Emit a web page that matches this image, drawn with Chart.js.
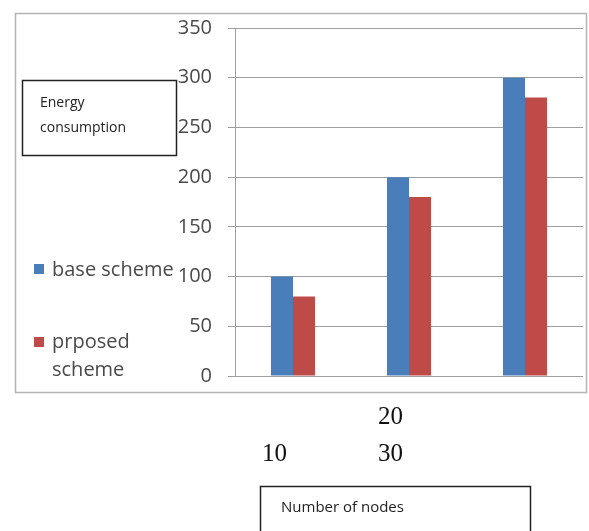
<!DOCTYPE html>
<html>
<head>
<meta charset="utf-8">
<script src="https://cdn.jsdelivr.net/npm/chart.js@4.4.1/dist/chart.umd.min.js"></script>
<style>
  html, body { margin: 0; padding: 0; background: #fff; }
  #wrap { width: 589px; height: 531px; position: relative; }
</style>
</head>
<body>
<div id="wrap"><canvas id="c" width="589" height="531"></canvas></div>
<script>
// chart data
const nodeLabels = ['10', '20', '30'];
const baseScheme = [100, 200, 300];
const proposedScheme = [80, 180, 280];
const yTicks = [0, 50, 100, 150, 200, 250, 300, 350];
const yTitle = ['Energy', 'consumption'];
const xTitle = 'Number of nodes';

const BLUE = '#4a7ebb';
const RED = '#be4b48';
const GRID = '#a0a0a0';
const TEXT = '#4a4a4a';

// frame, text boxes, legend and the odd x labels of the original sheet
const decor = {
  id: 'decor',
  beforeDraw(chart) {
    const ctx = chart.ctx;
    ctx.save();
    ctx.fillStyle = '#fff';
    ctx.fillRect(0, 0, chart.width, chart.height);
    ctx.strokeStyle = '#b4b4b4';
    ctx.lineWidth = 1.5;
    ctx.strokeRect(15.5, 13.5, 571, 379);
    ctx.restore();
  },
  afterDraw(chart) {
    const ctx = chart.ctx;
    ctx.save();
    // y title box
    ctx.strokeStyle = '#222';
    ctx.lineWidth = 1.5;
    ctx.strokeRect(22.5, 80.5, 154, 75);
    ctx.fillStyle = '#222';
    ctx.font = '14px "Open Sans"';
    ctx.textBaseline = 'alphabetic';
    ctx.fillText(yTitle[0], 40, 107);
    ctx.fillText(yTitle[1], 40, 132);
    // x title box
    ctx.strokeRect(260.5, 486.5, 270, 60);
    ctx.font = '15px "Open Sans"';
    ctx.fillText(xTitle, 281, 512);

    // legend
    const ds = chart.data.datasets;
    ctx.font = '20px "Open Sans"';
    ctx.fillStyle = ds[0].backgroundColor;
    ctx.fillRect(34, 264, 10, 10);
    ctx.fillStyle = TEXT;
    ctx.fillText(ds[0].label, 52, 276);
    ctx.fillStyle = ds[1].backgroundColor;
    ctx.fillRect(34, 337, 10, 10);
    ctx.fillStyle = TEXT;
    const parts = ds[1].label.split(' ');
    ctx.fillText(parts[0], 52, 348);
    ctx.fillText(parts[1], 52, 376);

    // category labels
    ctx.fillStyle = '#111';
    ctx.font = '25px "Liberation Serif"';
    ctx.fillText(chart.data.labels[1], 378, 424);
    ctx.fillText(chart.data.labels[0], 262, 461);
    ctx.fillText(chart.data.labels[2], 378, 461);
    ctx.restore();
  }
};

new Chart(document.getElementById('c'), {
  type: 'bar',
  data: {
    labels: nodeLabels,
    datasets: [
      { label: 'base scheme', data: baseScheme, backgroundColor: BLUE },
      { label: 'prposed scheme', data: proposedScheme, backgroundColor: RED }
    ]
  },
  options: {
    responsive: false,
    animation: false,
    events: [],
    layout: { padding: { left: 0, top: 28, right: 6, bottom: 155 } },
    datasets: { bar: { categoryPercentage: 0.38, barPercentage: 1.0 } },
    plugins: { legend: { display: false }, tooltip: { enabled: false } },
    scales: {
      x: { display: false },
      y: {
        min: 0, max: 350,
        afterFit(scale) { scale.width = 235; },
        afterBuildTicks(scale) { scale.ticks = yTicks.map(v => ({ value: v })); },
        grid: { color: GRID, lineWidth: 1, tickLength: 7 },
        border: { display: true, color: GRID, width: 1 },
        ticks: { color: TEXT, padding: 16, font: { family: 'Open Sans', size: 20 } }
      }
    }
  },
  plugins: [decor]
});
</script>
</body>
</html>
